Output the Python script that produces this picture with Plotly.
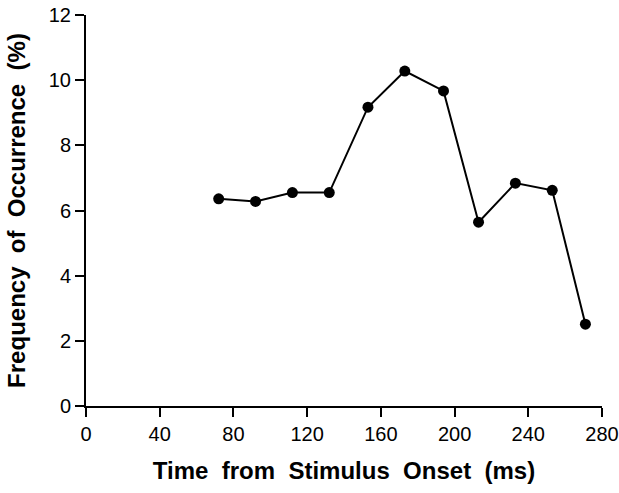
import plotly.graph_objects as go

time_ms = [72, 92, 112, 132, 153, 173, 194, 213, 233, 253, 271]
frequency = [6.36, 6.28, 6.55, 6.55, 9.17, 10.28, 9.67, 5.64, 6.84, 6.62, 2.51]
x_ticks = [0, 40, 80, 120, 160, 200, 240, 280]
y_ticks = [0, 2, 4, 6, 8, 10, 12]

fig = go.Figure()
fig.add_trace(go.Scatter(
    x=time_ms, y=frequency, mode="lines+markers",
    line=dict(color="black", width=2),
    marker=dict(color="black", size=11),
    showlegend=False, cliponaxis=False,
))

S = "\u00a0\u00a0"
fig.update_layout(
    width=619, height=493,
    margin=dict(l=86, r=17, t=15, b=87),
    paper_bgcolor="white", plot_bgcolor="white",
    font=dict(family="Liberation Sans, Arial, sans-serif", color="black"),
    xaxis=dict(
        range=[0, 280], tickvals=x_ticks, ticktext=[str(v) for v in x_ticks],
        showgrid=False, zeroline=False, showline=True, linecolor="black", linewidth=2,
        ticks="outside", ticklen=9, tickwidth=2, tickcolor="black",
        tickfont=dict(size=20), automargin=False,
        title=dict(text=f"Time{S}from{S}Stimulus{S}Onset{S}(ms)", font=dict(size=24, weight="bold"), standoff=18),
    ),
    yaxis=dict(
        range=[0, 12], tickvals=y_ticks, ticktext=[str(v) for v in y_ticks],
        showgrid=False, zeroline=False, showline=True, linecolor="black", linewidth=2,
        ticks="outside", ticklen=9, tickwidth=2, tickcolor="black",
        tickfont=dict(size=20), automargin=False,
        title=dict(text=f"Frequency{S}of{S}Occurrence{S}(%)", font=dict(size=24, weight="bold"), standoff=16),
    ),
)

fig.write_html("out.html")
